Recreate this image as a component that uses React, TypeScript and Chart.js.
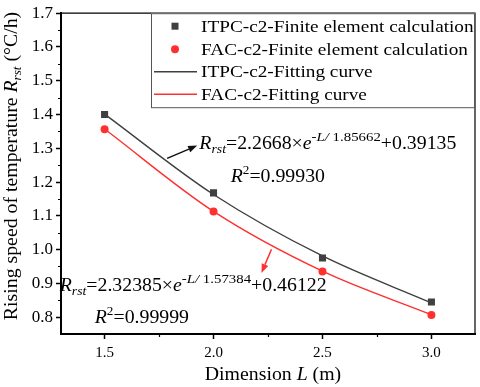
import React, { useEffect, useRef } from "react";
import { Chart, registerables } from "chart.js";
Chart.register(...registerables);

// ---- data ----
const dimensions = [1.5, 2.0, 2.5, 3.0];
const itpcFE = [1.4, 1.168, 0.975, 0.845];
const facFE = [1.356, 1.113, 0.935, 0.806];
const itpcFit = [1.401, 1.163, 0.981, 0.842];
const facFit = [1.357, 1.113, 0.936, 0.807];
const xTicks = [1.5, 2.0, 2.5, 3.0];
const xMinorTicks = [1.75, 2.25, 2.75];
const yTicks = [0.8, 0.9, 1.0, 1.1, 1.2, 1.3, 1.4, 1.5, 1.6, 1.7];
const yMinorTicks = [0.85, 0.95, 1.05, 1.15, 1.25, 1.35, 1.45, 1.55, 1.65];
const seriesLabels = [
  "ITPC-c2-Finite element calculation",
  "FAC-c2-Finite element calculation",
  "ITPC-c2-Fitting curve",
  "FAC-c2-Fitting curve",
];

const FONT = '"Liberation Serif", "Times New Roman", serif';
const SX = 1.1;
const GRAY = "#404040";
const RED = "#ff3030";

type Run = { t: string; size: number; italic?: boolean; dy?: number };

function setFont(ctx: CanvasRenderingContext2D, r: Run) {
  ctx.font = `${r.italic ? "italic " : ""}${r.size}px ${FONT}`;
}
function runsWidth(ctx: CanvasRenderingContext2D, runs: Run[]) {
  let w = 0;
  for (const r of runs) {
    setFont(ctx, r);
    w += ctx.measureText(r.t).width;
  }
  return w * SX;
}
function drawRuns(
  ctx: CanvasRenderingContext2D,
  runs: Run[],
  x: number,
  y: number,
  align: "left" | "center" = "left",
  rotate = false
) {
  const w = runsWidth(ctx, runs);
  ctx.save();
  ctx.translate(x, y);
  if (rotate) ctx.rotate(-Math.PI / 2);
  ctx.scale(SX, 1);
  ctx.textBaseline = "alphabetic";
  ctx.textAlign = "left";
  ctx.fillStyle = "#000";
  let cx = align === "center" ? -w / SX / 2 : 0;
  for (const r of runs) {
    setFont(ctx, r);
    ctx.fillText(r.t, cx, r.dy || 0);
    cx += ctx.measureText(r.t).width;
  }
  ctx.restore();
}

function arrow(ctx: CanvasRenderingContext2D, x1: number, y1: number, x2: number, y2: number, color: string) {
  const a = Math.atan2(y2 - y1, x2 - x1);
  const hl = 9, hw = 3.5;
  ctx.save();
  ctx.strokeStyle = color;
  ctx.fillStyle = color;
  ctx.lineWidth = 1.5;
  ctx.beginPath();
  ctx.moveTo(x1, y1);
  ctx.lineTo(x2 - hl * Math.cos(a), y2 - hl * Math.sin(a));
  ctx.stroke();
  ctx.beginPath();
  ctx.moveTo(x2, y2);
  ctx.lineTo(x2 - hl * Math.cos(a) + hw * Math.sin(a), y2 - hl * Math.sin(a) - hw * Math.cos(a));
  ctx.lineTo(x2 - hl * Math.cos(a) - hw * Math.sin(a), y2 - hl * Math.sin(a) + hw * Math.cos(a));
  ctx.closePath();
  ctx.fill();
  ctx.restore();
}

const decorPlugin = {
  id: "decor",
  afterDraw(chart: any) {
    const ctx: CanvasRenderingContext2D = chart.ctx;
    const { left, right, top, bottom } = chart.chartArea;
    const xs = chart.scales.x;
    const ys = chart.scales.y;

    // frame top/right
    ctx.save();
    ctx.strokeStyle = "#000";
    ctx.lineWidth = 1.2;
    ctx.beginPath();
    ctx.moveTo(left, top);
    ctx.lineTo(right, top);
    ctx.lineTo(right, bottom);
    ctx.stroke();
    // minor ticks
    ctx.lineWidth = 1.2;
    ctx.beginPath();
    for (const v of xMinorTicks) {
      const px = Math.round(xs.getPixelForValue(v)) + 0.5;
      ctx.moveTo(px, bottom);
      ctx.lineTo(px, bottom + 3);
    }
    for (const v of yMinorTicks) {
      const py = Math.round(ys.getPixelForValue(v)) + 0.5;
      ctx.moveTo(left, py);
      ctx.lineTo(left - 3, py);
    }
    ctx.stroke();
    ctx.restore();

    // legend
    const lx = right - 324;
    const ly = top;
    const lb = top + 94;
    ctx.save();
    ctx.fillStyle = "#fff";
    ctx.fillRect(lx, ly, right - lx, lb - ly);
    ctx.strokeStyle = "#555";
    ctx.lineWidth = 1;
    ctx.strokeRect(lx + 0.5, ly + 0.5, right - lx - 1, lb - ly);
    const rowY = [13, 36, 58.5, 81];
    chart.data.datasets.forEach((ds: any, i: number) => {
      const cy = ly + rowY[i];
      const mx = lx + 24;
      if (ds.showLine === false) {
        ctx.fillStyle = ds.backgroundColor;
        if (ds.pointStyle === "rect") {
          ctx.fillRect(mx - 3.5, cy - 3.5, 7, 7);
        } else {
          ctx.beginPath();
          ctx.arc(mx, cy, 4, 0, Math.PI * 2);
          ctx.fill();
        }
      } else {
        ctx.strokeStyle = ds.borderColor;
        ctx.lineWidth = 1.5;
        ctx.beginPath();
        ctx.moveTo(lx + 3, cy);
        ctx.lineTo(lx + 46, cy);
        ctx.stroke();
      }
      drawRuns(ctx, [{ t: ds.label, size: 17.5 }], lx + 50, cy + 5.5);
    });
    ctx.restore();

    // annotations
    const P = (x: number, y: number) => [xs.getPixelForValue(x), ys.getPixelForValue(y)];
    let [ax1, ay1] = P(1.787, 1.27);
    let [ax2, ay2] = P(1.925, 1.308);
    arrow(ctx, ax1, ay1, ax2, ay2, "#111");
    [ax1, ay1] = P(2.266, 1.001);
    [ax2, ay2] = P(2.22, 0.931);
    arrow(ctx, ax1, ay1, ax2, ay2, RED);

    const eq = (a: string, b: string, c: string): Run[] => [
      { t: "R", size: 18, italic: true },
      { t: "rst", size: 12.5, italic: true, dy: 4 },
      { t: "=" + a + "×", size: 18 },
      { t: "e", size: 18, italic: true },
      { t: "-L/", size: 13.5, italic: true, dy: -8 },
      { t: " " + b, size: 13.5, dy: -8 },
      { t: "+" + c, size: 18 },
    ];
    const r2 = (v: string): Run[] => [
      { t: "R", size: 18, italic: true },
      { t: "2", size: 12, dy: -8 },
      { t: "=" + v, size: 18 },
    ];
    let [tx, ty] = P(1.935, 1.2965);
    drawRuns(ctx, eq("2.2668", "1.85662", "0.39135"), tx, ty);
    [tx, ty] = P(2.079, 1.2);
    drawRuns(ctx, r2("0.99930"), tx, ty);
    [tx, ty] = P(1.294, 0.878);
    drawRuns(ctx, eq("2.32385", "1.57384", "0.46122"), tx, ty);
    [tx, ty] = P(1.455, 0.782);
    drawRuns(ctx, r2("0.99999"), tx, ty);

    // axis titles
    drawRuns(
      ctx,
      [
        { t: "Dimension ", size: 18 },
        { t: "L", size: 18, italic: true },
        { t: " (m)", size: 18 },
      ],
      (left + right) / 2 + 5,
      380,
      "center"
    );
    drawRuns(
      ctx,
      [
        { t: "Rising speed of temperature ", size: 18 },
        { t: "R", size: 18, italic: true },
        { t: "rst", size: 12, italic: true, dy: 4 },
        { t: " (°C/h)", size: 18 },
      ],
      17,
      166,
      "center",
      true
    );
  },
};

export default function App() {
  const ref = useRef<HTMLCanvasElement>(null);
  useEffect(() => {
    if (!ref.current) return;
    const chart = new Chart(ref.current, {
      type: "scatter",
      data: {
        datasets: [
          {
            label: seriesLabels[0],
            data: dimensions.map((x, i) => ({ x, y: itpcFE[i] })),
            showLine: false,
            pointStyle: "rect",
            pointRadius: 5,
            backgroundColor: GRAY,
            borderColor: GRAY,
            borderWidth: 0,
            order: 0,
          },
          {
            label: seriesLabels[1],
            data: dimensions.map((x, i) => ({ x, y: facFE[i] })),
            showLine: false,
            pointStyle: "circle",
            pointRadius: 4,
            backgroundColor: RED,
            borderColor: RED,
            borderWidth: 0,
            order: 0,
          },
          {
            label: seriesLabels[2],
            data: dimensions.map((x, i) => ({ x, y: itpcFit[i] })),
            showLine: true,
            pointRadius: 0,
            borderColor: GRAY,
            backgroundColor: GRAY,
            borderWidth: 1.4,
            cubicInterpolationMode: "monotone",
            order: 1,
          },
          {
            label: seriesLabels[3],
            data: dimensions.map((x, i) => ({ x, y: facFit[i] })),
            showLine: true,
            pointRadius: 0,
            borderColor: RED,
            backgroundColor: RED,
            borderWidth: 1.4,
            cubicInterpolationMode: "monotone",
            order: 1,
          },
        ],
      },
      options: {
        animation: false,
        responsive: false,
        layout: { padding: { top: 9, right: 2, left: 0, bottom: 0 } },
        plugins: { legend: { display: false }, tooltip: { enabled: false } },
        scales: {
          x: {
            type: "linear",
            min: 1.3,
            max: 3.2,
            afterBuildTicks: (s: any) => {
              s.ticks = xTicks.map((v) => ({ value: v }));
            },
            afterFit: (s: any) => {
              s.height = 53;
            },
            border: { display: true, color: "#000", width: 2 },
            grid: {
              display: true,
              drawOnChartArea: false,
              drawTicks: true,
              tickLength: 5,
              tickColor: "#000",
              tickWidth: 1.5,
            },
            ticks: {
              color: "#000",
              font: { family: FONT, size: 15 },
              padding: 5,
              maxRotation: 0,
              callback: (v: any) => Number(v).toFixed(1),
            },
          },
          y: {
            type: "linear",
            min: 0.75,
            max: 1.7,
            afterBuildTicks: (s: any) => {
              s.ticks = yTicks.map((v) => ({ value: v }));
            },
            afterFit: (s: any) => {
              s.width = 61;
            },
            border: { display: true, color: "#000", width: 2 },
            grid: {
              display: true,
              drawOnChartArea: false,
              drawTicks: true,
              tickLength: 5,
              tickColor: "#000",
              tickWidth: 1.5,
            },
            ticks: {
              color: "#000",
              font: { family: FONT, size: 17 },
              padding: 3,
              callback: (v: any) => Number(v).toFixed(1),
            },
          },
        },
      },
      plugins: [decorPlugin],
    } as any);
    return () => chart.destroy();
  }, []);
  return (
    <div style={{ position: "fixed", left: 0, top: 0, width: 480, height: 387, background: "#fff" }}>
      <canvas ref={ref} width={480} height={387} style={{ width: 480, height: 387, display: "block" }} />
    </div>
  );
}
